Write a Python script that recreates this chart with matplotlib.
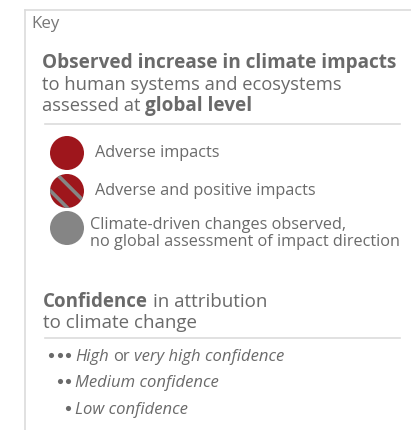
import matplotlib
matplotlib.use("Agg")
import matplotlib.pyplot as plt
from matplotlib.patches import Circle, Polygon
import numpy as np

# ---- content ----
key_title = "Key"
impact_heading = [
    [("Observed increase in climate impacts", "bold", "normal")],
    [("to human systems and ecosystems", "normal", "normal")],
    [("assessed at", "normal", "normal"), ("global level", "bold", "normal")],
]
impact_labels = [
    ["Adverse impacts"],
    ["Adverse and positive impacts"],
    ["Climate-driven changes observed,", "no global assessment of impact direction"],
]
impact_kinds = ["adverse", "mixed", "undetermined"]
confidence_heading = [
    [("Confidence", "bold", "normal"), ("in attribution", "normal", "normal")],
    [("to climate change", "normal", "normal")],
]
confidence_dots = [3, 2, 1]
confidence_labels = [
    [("High", "normal", "italic"), ("or", "normal", "normal"), ("very high confidence", "normal", "italic")],
    [("Medium confidence", "normal", "italic")],
    [("Low confidence", "normal", "italic")],
]

RED = "#9e161c"
GREY = "#858585"
TEXT = "#6a6a6a"
RULE = "#dcdcdc"
FONT = "Open Sans"

W, H = 411, 430
fig = plt.figure(figsize=(W / 100, H / 100), dpi=100)
ax = fig.add_axes([0, 0, 1, 1])
ax.set_xlim(0, W)
ax.set_ylim(H, 0)
ax.axis("off")
renderer = fig.canvas.get_renderer()


def runs_text(x, y, runs, size, bold_size=None):
    # draw a line made of pieces with different weights / styles
    for text, weight, style in runs:
        s = bold_size if (weight == "bold" and bold_size) else size
        t = ax.text(x, y, text, fontsize=s, fontweight=weight, fontstyle=style,
                    family=FONT, color=TEXT, va="baseline", ha="left")
        w = t.get_window_extent(renderer).width
        x += w + s * 1.389 * 0.27


# frame lines
ax.plot([25, W], [10, 10], color=RULE, lw=1.2)
ax.plot([25, 25], [10, H], color=RULE, lw=1.2)

ax.text(31, 28.5, key_title, fontsize=12.2, family=FONT, color="#777777", va="baseline")

for i, line in enumerate(impact_heading):
    runs_text(42, 68 + i * 21.5, line, 13.2, bold_size=13.7)

ax.plot([45, 400], [124, 124], color=RULE, lw=1.2)

centers = [153, 191, 228]
r = 17
for cy, kind, label in zip(centers, impact_kinds, impact_labels):
    if kind == "undetermined":
        ax.add_patch(Circle((67, cy), r, color=GREY, lw=0))
    else:
        base = Circle((67, cy), r, color=RED, lw=0)
        ax.add_patch(base)
        if kind == "mixed":
            for off in (4.7, -11.6):
                d = np.array([1, 1]) / np.sqrt(2)
                n = np.array([1, -1]) / np.sqrt(2)
                c = np.array([67, cy]) + off * n
                hw = 1.8
                pts = [c - 30 * d - hw * n, c + 30 * d - hw * n,
                       c + 30 * d + hw * n, c - 30 * d + hw * n]
                stripe = Polygon(pts, color=GREY, lw=0)
                ax.add_patch(stripe)
                stripe.set_clip_path(base)
    if len(label) == 1:
        ax.text(95, cy + 4, label[0], fontsize=11.7, family=FONT, color=TEXT, va="baseline")
    else:
        for j, s in enumerate(label):
            ax.text(90, cy + 1 + j * 17.5, s, fontsize=11.7, family=FONT, color=TEXT, va="baseline")

for i, line in enumerate(confidence_heading):
    runs_text(43, 307 + i * 20.5, line, 13.5)

ax.plot([45, 400], [338, 338], color=RULE, lw=1.2)

for i, (n, line) in enumerate(zip(confidence_dots, confidence_labels)):
    y = 361 + i * 26.3
    xs = [68 - 8.5 * k for k in range(n)]
    ax.plot(xs, [y - 6] * n, "o", ms=3.7, color=TEXT, mew=0)
    runs_text(75, y, line, 12.0)

fig.savefig("out.png", dpi=100)
